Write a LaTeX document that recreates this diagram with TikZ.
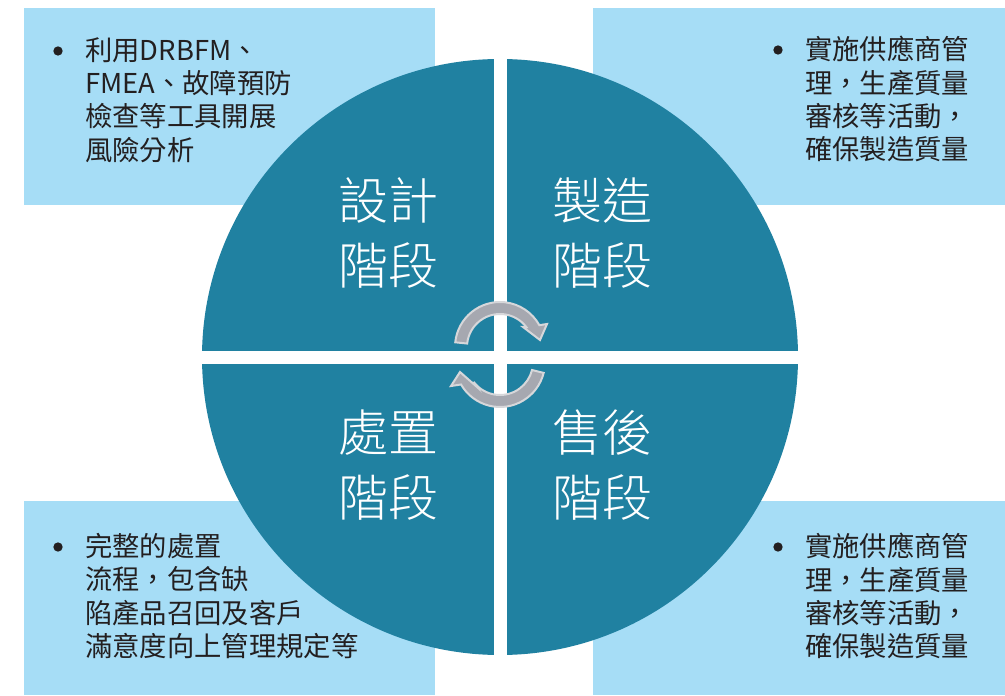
\documentclass[tikz,border=0pt]{standalone}
\usepackage{fontspec}
\setmainfont{Noto Sans CJK TC}
\newfontfamily\phasefont{Noto Sans CJK TC Light}
\usetikzlibrary{calc}
\definecolor{quad}{HTML}{2081A1}
\definecolor{boxblue}{HTML}{A6DDF6}
\definecolor{txt}{HTML}{231F20}
\definecolor{arrfill}{HTML}{A6A8B0}
\definecolor{arredge}{HTML}{D6D7DA}
\tikzset{
  infobox/.style={fill=boxblue},
  bodytext/.style={anchor=north west, inner sep=0pt, align=left, text=txt,
    font=\fontsize{20.5pt}{25pt}\selectfont},
  bulletdot/.style={circle, fill=txt, inner sep=0pt, minimum size=7pt},
  phase/.style={anchor=center, inner sep=0pt, align=center, text=white,
    font=\phasefont\fontsize{37.5pt}{49pt}\selectfont},
  cyclearrow/.style={fill=arrfill, draw=arredge, line width=1.5pt, line join=miter}
}
\begin{document}
\begin{tikzpicture}[x=0.75pt,y=-0.75pt]
\useasboundingbox (0,0) rectangle (1005,695);
\fill[white] (0,0) rectangle (1005,695);
% info boxes
\fill[infobox] (24,8) rectangle (435,205);
\fill[infobox] (593,8) rectangle (1005,205);
\fill[infobox] (24,501) rectangle (435,695);
\fill[infobox] (593,501) rectangle (1005,695);
% circle with quadrants
\fill[quad] (500,357) circle[radius=298];
\begin{scope}
  \clip (500,357) circle[radius=299];
  \fill[white] (494,40) rectangle (507,670);
  \fill[white] (190,351) rectangle (810,364);
\end{scope}
% phase labels
\node[phase] (design) at (388,233) {設計\\階段};
\node[phase] (manuf) at (602,233) {製造\\階段};
\node[phase] (dispose) at (388,465) {處置\\階段};
\node[phase] (after) at (602,465) {售後\\階段};
% cycle arrows
\coordinate (c1) at (500,347);
\coordinate (c2) at (500,362);
\path[cyclearrow] ($(c1)+(-174:45)$) arc[start angle=-174, end angle=-29, radius=45]
  -- ($(c1)+(47,-23)$) -- ($(c1)+(40,-7)$) -- ($(c1)+(23,-20)$) -- ($(c1)+(-37:33)$)
  arc[start angle=-37, end angle=-174, radius=33] -- cycle;
\path[cyclearrow] ($(c2)+(14:45)$) arc[start angle=14, end angle=150, radius=45]
  -- ($(c2)+(-49,24)$) -- ($(c2)+(-40,10)$) -- ($(c2)+(-23,25)$) -- ($(c2)+(143:33)$)
  arc[start angle=143, end angle=14, radius=33] -- cycle;
% texts
\node[bulletdot] (b1) at (58,51) {};
\node[bodytext] (t1) at (85,37) {利用DRBFM、\\FMEA、故障預防\\檢查等工具開展\\風險分析};
\node[bulletdot] (b2) at (778,50) {};
\node[bodytext] (t2) at (805,36) {實施供應商管\\理，生產質量\\審核等活動，\\確保製造質量};
\node[bulletdot] (b3) at (58,547) {};
\node[bodytext] (t3) at (85,533) {完整的處置\\流程，包含缺\\陷產品召回及客戶\\滿意度向上管理規定等};
\node[bulletdot] (b4) at (778,547) {};
\node[bodytext] (t4) at (805,533) {實施供應商管\\理，生產質量\\審核等活動，\\確保製造質量};
\end{tikzpicture}
\end{document}
